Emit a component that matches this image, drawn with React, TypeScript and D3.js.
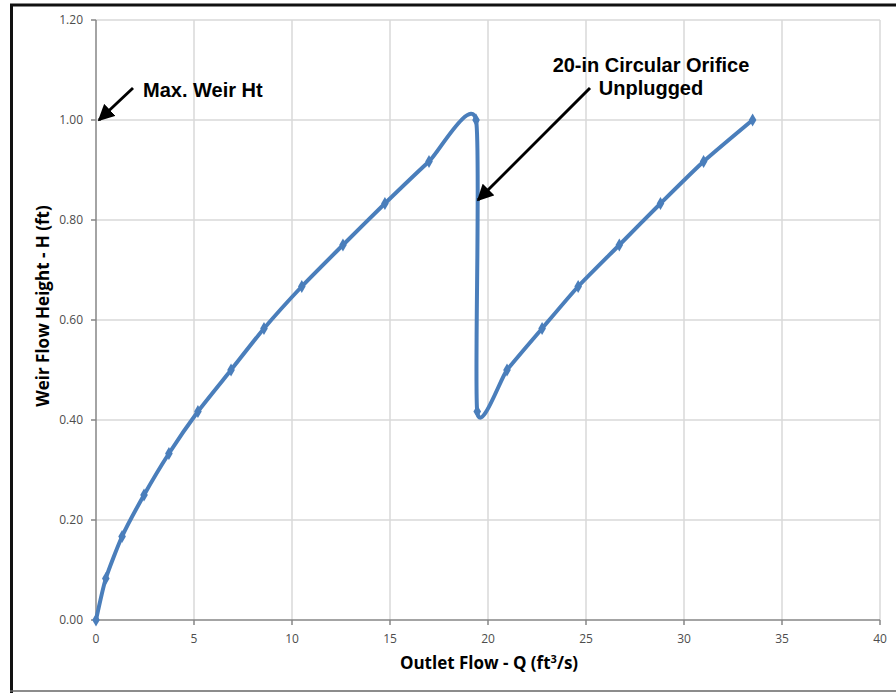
import React from 'react'
import * as d3 from 'd3'

const W = 896
const H = 693
const margin = {top: 20, right: 16, bottom: 73, left: 96}
const graphWidth = W - margin.left - margin.right
const graphHeight = H - margin.top - margin.bottom

// outlet flow Q (ft3/s) and weir flow height H (ft)
const flowQ = [0, 0.5, 1.33, 2.45, 3.72, 5.2, 6.89, 8.57, 10.5, 12.6, 14.74, 16.99, 19.39,
    19.45, 20.97, 22.76, 24.6, 26.7, 28.8, 31.0, 33.5]
const heightH = [0, 0.083, 0.167, 0.25, 0.333, 0.417, 0.5, 0.583, 0.667, 0.75, 0.833, 0.917, 1.0,
    0.417, 0.5, 0.583, 0.667, 0.75, 0.833, 0.917, 1.0]

const xTicks = [0, 5, 10, 15, 20, 25, 30, 35, 40]
const yTicks = [0, 0.2, 0.4, 0.6, 0.8, 1.0, 1.2]

const blue = '#4a7ebb'
const labelFont = '"Open Sans", "Noto Sans", sans-serif'
const annoFont = '"Liberation Sans", Arial, sans-serif'

export default function App() {
    const x = d3.scaleLinear().domain([0, 40]).range([0, graphWidth])
    const y = d3.scaleLinear().domain([0, 1.2]).range([graphHeight, 0])

    const pts = flowQ.map((q, i) => [q, heightH[i]] as [number, number])

    const line = d3.line<[number, number]>()
        .x(d => x(d[0]))
        .y(d => y(d[1]))
        .curve(d3.curveCardinal.tension(0.4))

    const diamond = d3.symbol().type(d3.symbolDiamond).size(50)()

    return (
        <svg width={W} height={H} style={{position: 'absolute', left: 0, top: 0, background: '#fff'}}>
            <defs>
                <marker id="arrow" viewBox="0 0 10 10" refX="9" refY="5" markerWidth="5.5" markerHeight="5.5"
                        orient="auto" markerUnits="strokeWidth">
                    <path d="M0,0 L10,5 L0,10 Z" fill="#000" />
                </marker>
            </defs>

            {/* outer frame */}
            <line x1={10} x2={W} y1={5} y2={5} stroke="#111" strokeWidth={3} />
            <line x1={11.5} x2={11.5} y1={4} y2={H} stroke="#111" strokeWidth={3} />
            <line x1={10} x2={W} y1={691} y2={691} stroke="#666" strokeWidth={1.5} />

            <g transform={`translate(${margin.left}, ${margin.top})`}>
                {/* grid */}
                {xTicks.slice(1).map(t => (
                    <line key={'gx' + t} x1={x(t)} x2={x(t)} y1={0} y2={graphHeight} stroke="#d9d9d9" strokeWidth={1.5} />
                ))}
                {yTicks.slice(1).map(t => (
                    <line key={'gy' + t} x1={0} x2={graphWidth} y1={y(t)} y2={y(t)} stroke="#d9d9d9" strokeWidth={1.5} />
                ))}

                {/* axes */}
                <line x1={0} x2={graphWidth} y1={graphHeight} y2={graphHeight} stroke="#868686" strokeWidth={1.5} />
                <line x1={0} x2={0} y1={0} y2={graphHeight} stroke="#868686" strokeWidth={1.5} />
                {xTicks.map(t => (
                    <g key={'xt' + t} transform={`translate(${x(t)}, ${graphHeight})`}>
                        <line y1={0} y2={5} stroke="#868686" strokeWidth={1.5} />
                        <text y={23} textAnchor="middle" fontFamily={labelFont} fontSize={12} fill="#4d4d4d">{t}</text>
                    </g>
                ))}
                {yTicks.map(t => (
                    <g key={'yt' + t} transform={`translate(0, ${y(t)})`}>
                        <line x1={-5} x2={0} stroke="#868686" strokeWidth={1.5} />
                        <text x={-13} dy="0.35em" textAnchor="end" fontFamily={labelFont} fontSize={12} fill="#4d4d4d">
                            {t.toFixed(2)}
                        </text>
                    </g>
                ))}

                {/* series */}
                <path d={line(pts) || ''} fill="none" stroke={blue} strokeWidth={4} strokeLinejoin="round" />
                {pts.map((d, i) => (
                    <path key={'m' + i} d={diamond || ''} transform={`translate(${x(d[0])}, ${y(d[1])})`} fill={blue} />
                ))}
            </g>

            {/* axis titles */}
            <text x={489} y={669} textAnchor="middle" fontFamily={labelFont} fontWeight="bold" fontSize={17} fill="#000">
                Outlet Flow - Q (ft<tspan dy={-6} fontSize={11}>3</tspan><tspan dy={6}>/s)</tspan>
            </text>
            <text transform="translate(49, 306) rotate(-90)" textAnchor="middle" fontFamily={labelFont}
                  fontWeight="bold" fontSize={17} fill="#000">
                Weir Flow Height - H (ft)
            </text>

            {/* annotations */}
            <text x={143} y={97} fontFamily={annoFont} fontWeight="bold" fontSize={20} fill="#000">Max. Weir Ht</text>
            <line x1={133} y1={88} x2={99} y2={120} stroke="#000" strokeWidth={3} markerEnd="url(#arrow)" />

            <text x={651} y={72} textAnchor="middle" fontFamily={annoFont} fontWeight="bold" fontSize={20} fill="#000">
                20-in Circular Orifice
            </text>
            <text x={651} y={95} textAnchor="middle" fontFamily={annoFont} fontWeight="bold" fontSize={20} fill="#000">
                Unplugged
            </text>
            <line x1={590} y1={88} x2={478} y2={200} stroke="#000" strokeWidth={3} markerEnd="url(#arrow)" />
        </svg>
    )
}
